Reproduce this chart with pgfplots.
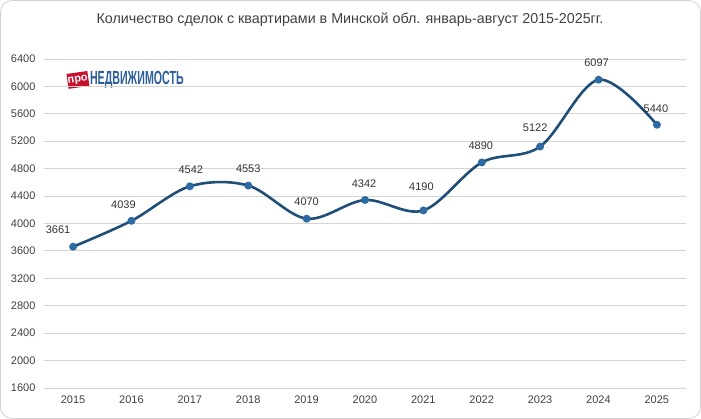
\documentclass[border=0pt]{standalone}
\usepackage{fontspec}
\setmainfont{Liberation Sans}
\usepackage{pgfplots}
\pgfplotsset{compat=1.18}
\definecolor{linec}{HTML}{1F4E79}
\definecolor{markc}{HTML}{2E6BA3}
\definecolor{logored}{HTML}{C8102E}
\definecolor{logoblue}{HTML}{2D5F9A}
\pgfplotstableread{
x y dx dy
2015 3661 -15 0
2016 4039 -8 0
2017 4542 1 0
2018 4553 0 0
2019 4070 0 0
2020 4342 -1 0
2021 4190 -2 7
2022 4890 -1 0
2023 5122 -5 2
2024 6097 -2 0
2025 5440 -1 0
}\mydata
\begin{document}
\begin{tikzpicture}[x=1bp,y=1bp]
\draw[black!18, rounded corners=12bp, line width=0.8bp] (0.5,0.5) rectangle (700.5,418.5);
\node[text=black!75, font=\fontsize{14.3bp}{16bp}\selectfont] at (350,399) {Количество сделок с квартирами в Минской обл. январь-август 2015-2025гг.};
\node[fill=logored, text=white, rotate=8, inner sep=0pt, minimum width=21bp, minimum height=15bp, font=\fontsize{11bp}{12bp}\selectfont\bfseries] at (78,339) {про};
\node[anchor=west, text=logoblue, xscale=0.56, inner sep=0pt, font=\fontsize{19bp}{20bp}\selectfont\bfseries] at (90,339) {НЕДВИЖИМОСТЬ};
\begin{axis}[at={(44bp,31bp)}, anchor=south west, scale only axis,
  width=642bp, height=329bp,
  xmin=2014.5, xmax=2025.5, ymin=1600, ymax=6400,
  ytick={1600,2000,...,6400}, xtick={2015,...,2025},
  axis line style={draw=none}, tick style={draw=none},
  ymajorgrids, grid style={black!17, line width=0.8bp},
  /pgf/number format/.cd, 1000 sep={}, assume math mode=true, /pgfplots/.cd,
  ticklabel style={font=\fontsize{11bp}{13bp}\selectfont, text=black!75},
  yticklabel style={xshift=-5bp},
  xticklabel style={yshift=-4bp},
  clip=false,
]
\addplot[linec, line width=2.6bp, smooth, tension=0.55, mark=*, mark size=2.6bp,
  mark options={fill=markc, draw=markc},
  nodes near coords, point meta=explicit,
  visualization depends on={\thisrow{dx} \as \dx},
  visualization depends on={\thisrow{dy} \as \dy},
  every node near coord/.append style={anchor=south, yshift=8bp+\dy bp, xshift=\dx bp,
    font=\fontsize{11bp}{13bp}\selectfont, text=black!80}]
  table[x=x,y=y,meta=y] {\mydata};
\end{axis}
\end{tikzpicture}
\end{document}
